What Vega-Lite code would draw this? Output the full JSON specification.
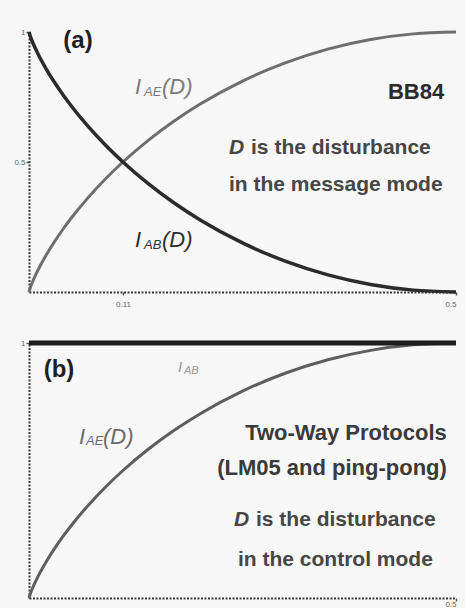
{
  "$schema": "https://vega.github.io/schema/vega-lite/v6.json",
  "background": "#f7f7f7",
  "padding": {"left": 13, "top": 25, "right": 0, "bottom": 0},
  "bounds": "flush",
  "spacing": 51,
  "resolve": {"scale": {"x": "independent", "y": "independent"}},
  "config": {
    "view": {"stroke": null},
    "font": "Liberation Sans",
    "axis": {
      "grid": false,
      "title": null,
      "domainColor": "#3a3a3a",
      "domainWidth": 2,
      "domainDash": [2, 1.5],
      "tickColor": "#555555",
      "tickSize": 3,
      "tickWidth": 1.5,
      "labelFont": "Liberation Sans",
      "labelFontSize": 8,
      "labelColor": "#666666",
      "labelPadding": 1
    }
  },
  "datasets": {
    "a_curves": [
      {"curve": "IAE", "D": 0, "I": 0},
      {"curve": "IAE", "D": 0.002, "I": 0.0208},
      {"curve": "IAE", "D": 0.005, "I": 0.0454},
      {"curve": "IAE", "D": 0.01, "I": 0.0808},
      {"curve": "IAE", "D": 0.02, "I": 0.1414},
      {"curve": "IAE", "D": 0.03, "I": 0.1944},
      {"curve": "IAE", "D": 0.04, "I": 0.2423},
      {"curve": "IAE", "D": 0.05, "I": 0.2864},
      {"curve": "IAE", "D": 0.07, "I": 0.3659},
      {"curve": "IAE", "D": 0.09, "I": 0.4365},
      {"curve": "IAE", "D": 0.11, "I": 0.5},
      {"curve": "IAE", "D": 0.14, "I": 0.5842},
      {"curve": "IAE", "D": 0.17, "I": 0.6577},
      {"curve": "IAE", "D": 0.2, "I": 0.7219},
      {"curve": "IAE", "D": 0.25, "I": 0.8113},
      {"curve": "IAE", "D": 0.3, "I": 0.8813},
      {"curve": "IAE", "D": 0.35, "I": 0.9341},
      {"curve": "IAE", "D": 0.4, "I": 0.971},
      {"curve": "IAE", "D": 0.45, "I": 0.9928},
      {"curve": "IAE", "D": 0.5, "I": 1},
      {"curve": "IAB", "D": 0, "I": 1},
      {"curve": "IAB", "D": 0.002, "I": 0.9792},
      {"curve": "IAB", "D": 0.005, "I": 0.9546},
      {"curve": "IAB", "D": 0.01, "I": 0.9192},
      {"curve": "IAB", "D": 0.02, "I": 0.8586},
      {"curve": "IAB", "D": 0.03, "I": 0.8056},
      {"curve": "IAB", "D": 0.04, "I": 0.7577},
      {"curve": "IAB", "D": 0.05, "I": 0.7136},
      {"curve": "IAB", "D": 0.07, "I": 0.6341},
      {"curve": "IAB", "D": 0.09, "I": 0.5635},
      {"curve": "IAB", "D": 0.11, "I": 0.5},
      {"curve": "IAB", "D": 0.14, "I": 0.4158},
      {"curve": "IAB", "D": 0.17, "I": 0.3423},
      {"curve": "IAB", "D": 0.2, "I": 0.2781},
      {"curve": "IAB", "D": 0.25, "I": 0.1887},
      {"curve": "IAB", "D": 0.3, "I": 0.1187},
      {"curve": "IAB", "D": 0.35, "I": 0.0659},
      {"curve": "IAB", "D": 0.4, "I": 0.029},
      {"curve": "IAB", "D": 0.45, "I": 0.0072},
      {"curve": "IAB", "D": 0.5, "I": 0}
    ],
    "a_notes": [
      {"role": "tag", "text": "(a)", "D": 0.0574, "I": 0.9654},
      {"role": "math", "curve": "IAE", "text": "I", "D": 0.1241, "I": 0.7885},
      {"role": "sub", "curve": "IAE", "text": "AE", "D": 0.1347, "I": 0.7692},
      {"role": "math", "curve": "IAE", "text": "(D)", "D": 0.1557, "I": 0.7885},
      {"role": "head", "text": "BB84", "D": 0.4532, "I": 0.7692},
      {"role": "capD", "text": "D", "D": 0.2342, "I": 0.5538},
      {"role": "caption", "text": "is the disturbance", "D": 0.26, "I": 0.5538},
      {"role": "caption", "text": "in the message mode", "D": 0.2342, "I": 0.4115},
      {"role": "math", "curve": "IAB", "text": "I", "D": 0.1241, "I": 0.2},
      {"role": "sub", "curve": "IAB", "text": "AB", "D": 0.1347, "I": 0.1808},
      {"role": "math", "curve": "IAB", "text": "(D)", "D": 0.1557, "I": 0.2}
    ],
    "b_curves": [
      {"curve": "IAB", "D": 0, "I": 1},
      {"curve": "IAB", "D": 0.5, "I": 1},
      {"curve": "IAE", "D": 0, "I": 0},
      {"curve": "IAE", "D": 0.002, "I": 0.0208},
      {"curve": "IAE", "D": 0.005, "I": 0.0454},
      {"curve": "IAE", "D": 0.01, "I": 0.0808},
      {"curve": "IAE", "D": 0.02, "I": 0.1414},
      {"curve": "IAE", "D": 0.03, "I": 0.1944},
      {"curve": "IAE", "D": 0.04, "I": 0.2423},
      {"curve": "IAE", "D": 0.05, "I": 0.2864},
      {"curve": "IAE", "D": 0.07, "I": 0.3659},
      {"curve": "IAE", "D": 0.09, "I": 0.4365},
      {"curve": "IAE", "D": 0.11, "I": 0.5},
      {"curve": "IAE", "D": 0.14, "I": 0.5842},
      {"curve": "IAE", "D": 0.17, "I": 0.6577},
      {"curve": "IAE", "D": 0.2, "I": 0.7219},
      {"curve": "IAE", "D": 0.25, "I": 0.8113},
      {"curve": "IAE", "D": 0.3, "I": 0.8813},
      {"curve": "IAE", "D": 0.35, "I": 0.9341},
      {"curve": "IAE", "D": 0.4, "I": 0.971},
      {"curve": "IAE", "D": 0.45, "I": 0.9928},
      {"curve": "IAE", "D": 0.5, "I": 1}
    ],
    "b_notes": [
      {"role": "tag", "text": "(b)", "D": 0.0351, "I": 0.8941},
      {"role": "math2", "curve": "IAB", "text": "I", "D": 0.1745, "I": 0.9059},
      {"role": "sub2", "curve": "IAB", "text": "AB", "D": 0.1815, "I": 0.8902},
      {"role": "math", "curve": "IAE", "text": "I", "D": 0.0585, "I": 0.6314},
      {"role": "sub", "curve": "IAE", "text": "AE", "D": 0.0667, "I": 0.6157},
      {"role": "math", "curve": "IAE", "text": "(D)", "D": 0.0867, "I": 0.6314},
      {"role": "head", "text": "Two-Way Protocols", "D": 0.3712, "I": 0.6471},
      {"role": "head", "text": "(LM05 and ping-pong)", "D": 0.3548, "I": 0.5098},
      {"role": "capD", "text": "D", "D": 0.24, "I": 0.3059},
      {"role": "caption", "text": "is the disturbance", "D": 0.2658, "I": 0.3059},
      {"role": "caption", "text": "in the control mode", "D": 0.2447, "I": 0.149}
    ]
  },
  "vconcat": [
    {
      "width": 427,
      "height": 260,
      "encoding": {
        "x": {"field": "D", "type": "quantitative", "scale": {"domain": [0, 0.5]}, "axis": {"values": [0.11, 0.5], "format": ".2~g", "labelPadding": 5}},
        "y": {"field": "I", "type": "quantitative", "scale": {"domain": [0, 1]}, "axis": {"values": [0.5, 1], "format": ".1~g"}}
      },
      "layer": [
        {"data": {"name": "a_curves"}, "transform": [{"filter": "datum.curve === 'IAE'"}],
         "mark": {"type": "line", "color": "#6e6e6e", "strokeWidth": 3, "interpolate": "monotone"}},
        {"data": {"name": "a_curves"}, "transform": [{"filter": "datum.curve === 'IAB'"}],
         "mark": {"type": "line", "color": "#2b2b2b", "strokeWidth": 3.5, "interpolate": "monotone"}},
        {"data": {"name": "a_notes"}, "transform": [{"filter": "datum.role === 'tag'"}],
         "mark": {"type": "text", "fontSize": 24, "fontWeight": "bold", "align": "center", "baseline": "middle", "color": "#1f1f1f"},
         "encoding": {"text": {"field": "text"}}},
        {"data": {"name": "a_notes"}, "transform": [{"filter": "datum.role === 'math'"}],
         "mark": {"type": "text", "fontSize": 22, "fontStyle": "italic", "align": "left", "baseline": "middle"},
         "encoding": {"text": {"field": "text"}, "color": {"condition": {"test": "datum.curve === 'IAB'", "value": "#2e2e2e"}, "value": "#7a7a7a"}}},
        {"data": {"name": "a_notes"}, "transform": [{"filter": "datum.role === 'sub'"}],
         "mark": {"type": "text", "fontSize": 13, "fontStyle": "italic", "align": "left", "baseline": "middle"},
         "encoding": {"text": {"field": "text"}, "color": {"condition": {"test": "datum.curve === 'IAB'", "value": "#2e2e2e"}, "value": "#7a7a7a"}}},
        {"data": {"name": "a_notes"}, "transform": [{"filter": "datum.role === 'head'"}],
         "mark": {"type": "text", "fontSize": 22, "fontWeight": "bold", "align": "center", "baseline": "middle", "color": "#2a2a2a"},
         "encoding": {"text": {"field": "text"}}},
        {"data": {"name": "a_notes"}, "transform": [{"filter": "datum.role === 'caption'"}],
         "mark": {"type": "text", "fontSize": 21, "fontWeight": "bold", "align": "left", "baseline": "middle", "color": "#464646"},
         "encoding": {"text": {"field": "text"}}},
        {"data": {"name": "a_notes"}, "transform": [{"filter": "datum.role === 'capD'"}],
         "mark": {"type": "text", "fontSize": 21, "fontWeight": "bold", "fontStyle": "italic", "align": "left", "baseline": "middle", "color": "#464646"},
         "encoding": {"text": {"field": "text"}}}
      ]
    },
    {
      "width": 427,
      "height": 255,
      "encoding": {
        "x": {"field": "D", "type": "quantitative", "scale": {"domain": [0, 0.5]}, "axis": {"values": [0.5], "format": ".1~g", "labelPadding": -1}},
        "y": {"field": "I", "type": "quantitative", "scale": {"domain": [0, 1]}, "axis": {"values": [1], "format": ".1~g"}}
      },
      "layer": [
        {"data": {"name": "b_curves"}, "transform": [{"filter": "datum.curve === 'IAE'"}],
         "mark": {"type": "line", "color": "#5e5e5e", "strokeWidth": 3, "interpolate": "monotone"}},
        {"data": {"name": "b_curves"}, "transform": [{"filter": "datum.curve === 'IAB'"}],
         "mark": {"type": "line", "color": "#1c1c1c", "strokeWidth": 5}},
        {"data": {"name": "b_notes"}, "transform": [{"filter": "datum.role === 'tag'"}],
         "mark": {"type": "text", "fontSize": 24, "fontWeight": "bold", "align": "center", "baseline": "middle", "color": "#1f1f1f"},
         "encoding": {"text": {"field": "text"}}},
        {"data": {"name": "b_notes"}, "transform": [{"filter": "datum.role === 'math'"}],
         "mark": {"type": "text", "fontSize": 22, "fontStyle": "italic", "align": "left", "baseline": "middle", "color": "#6a6a6a"},
         "encoding": {"text": {"field": "text"}}},
        {"data": {"name": "b_notes"}, "transform": [{"filter": "datum.role === 'sub'"}],
         "mark": {"type": "text", "fontSize": 13, "fontStyle": "italic", "align": "left", "baseline": "middle", "color": "#6a6a6a"},
         "encoding": {"text": {"field": "text"}}},
        {"data": {"name": "b_notes"}, "transform": [{"filter": "datum.role === 'math2'"}],
         "mark": {"type": "text", "fontSize": 15, "fontStyle": "italic", "align": "left", "baseline": "middle", "color": "#999999"},
         "encoding": {"text": {"field": "text"}}},
        {"data": {"name": "b_notes"}, "transform": [{"filter": "datum.role === 'sub2'"}],
         "mark": {"type": "text", "fontSize": 11, "fontStyle": "italic", "align": "left", "baseline": "middle", "color": "#999999"},
         "encoding": {"text": {"field": "text"}}},
        {"data": {"name": "b_notes"}, "transform": [{"filter": "datum.role === 'head'"}],
         "mark": {"type": "text", "fontSize": 22, "fontWeight": "bold", "align": "center", "baseline": "middle", "color": "#3a3a3a"},
         "encoding": {"text": {"field": "text"}}},
        {"data": {"name": "b_notes"}, "transform": [{"filter": "datum.role === 'caption'"}],
         "mark": {"type": "text", "fontSize": 21, "fontWeight": "bold", "align": "left", "baseline": "middle", "color": "#464646"},
         "encoding": {"text": {"field": "text"}}},
        {"data": {"name": "b_notes"}, "transform": [{"filter": "datum.role === 'capD'"}],
         "mark": {"type": "text", "fontSize": 21, "fontWeight": "bold", "fontStyle": "italic", "align": "left", "baseline": "middle", "color": "#464646"},
         "encoding": {"text": {"field": "text"}}}
      ]
    }
  ]
}
